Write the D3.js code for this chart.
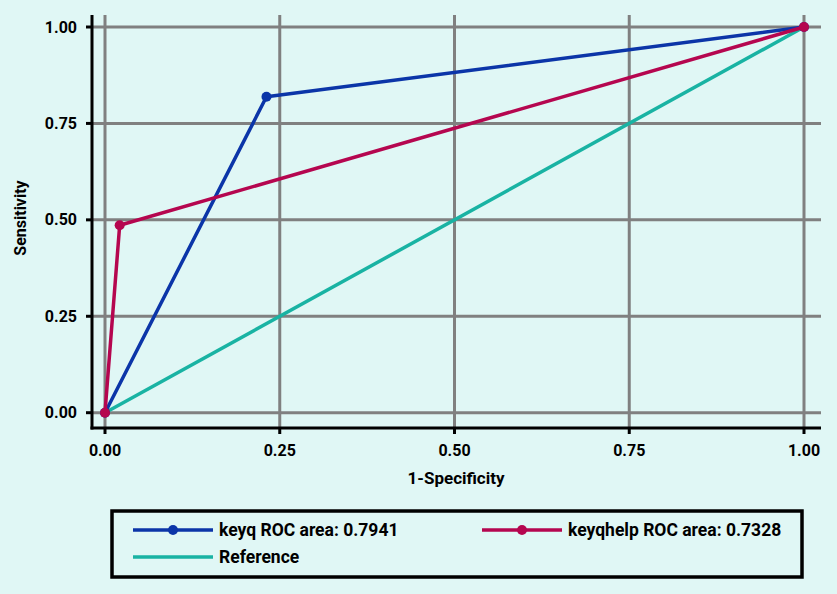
<!DOCTYPE html>
<html>
<head>
<meta charset="UTF-8">
<script src="https://d3js.org/d3.v7.min.js"></script>
<style>
  body { margin: 0; background: #e0f7f5; }
  svg { display: block; font-family: Roboto, "DejaVu Sans", sans-serif; font-weight: bold; }
</style>
</head>
<body>
<div id="chart"></div>
<script>
// data
const ticks = [0, 0.25, 0.5, 0.75, 1];
const keyqX = [0, 0.231, 1];
const keyqY = [0, 0.819, 1];
const helpX = [0, 0.021, 1];
const helpY = [0, 0.486, 1];
const refX = [0, 1];
const refY = [0, 1];
const legendLabels = ["keyq ROC area: 0.7941", "keyqhelp ROC area: 0.7328", "Reference"];

const W = 837, H = 594;
const svg = d3.select("#chart").append("svg").attr("width", W).attr("height", H);

const x = d3.scaleLinear().domain([0, 1]).range([105, 804]);
const y = d3.scaleLinear().domain([0, 1]).range([412.7, 27]);

const axisLeft = 92, axisBottom = 428, plotTop = 15, plotRight = 821;
const grid = "#808080";

// gridlines
svg.selectAll(".hg").data(ticks).join("line")
  .attr("x1", axisLeft).attr("x2", plotRight)
  .attr("y1", d => y(d)).attr("y2", d => y(d))
  .attr("stroke", grid).attr("stroke-width", 3);
svg.selectAll(".vg").data(ticks).join("line")
  .attr("x1", d => x(d)).attr("x2", d => x(d))
  .attr("y1", plotTop).attr("y2", axisBottom)
  .attr("stroke", grid).attr("stroke-width", 3);

// axes
svg.append("line").attr("x1", axisLeft).attr("x2", axisLeft)
  .attr("y1", plotTop).attr("y2", axisBottom + 1.5)
  .attr("stroke", "#000").attr("stroke-width", 3);
svg.append("line").attr("x1", axisLeft - 1.5).attr("x2", plotRight)
  .attr("y1", axisBottom).attr("y2", axisBottom)
  .attr("stroke", "#000").attr("stroke-width", 3);

svg.selectAll(".yt").data(ticks).join("line")
  .attr("x1", axisLeft - 6).attr("x2", axisLeft)
  .attr("y1", d => y(d)).attr("y2", d => y(d))
  .attr("stroke", "#000").attr("stroke-width", 3);
svg.selectAll(".xt").data(ticks).join("line")
  .attr("x1", d => x(d)).attr("x2", d => x(d))
  .attr("y1", axisBottom).attr("y2", axisBottom + 6)
  .attr("stroke", "#000").attr("stroke-width", 3);

svg.selectAll(".yl").data(ticks).join("text")
  .attr("x", 77).attr("y", d => y(d)).attr("dy", "0.35em")
  .attr("text-anchor", "end").attr("font-size", 16)
  .text(d => d3.format(".2f")(d));
svg.selectAll(".xl").data(ticks).join("text")
  .attr("x", d => x(d)).attr("y", 450).attr("dy", "0.35em")
  .attr("text-anchor", "middle").attr("font-size", 16)
  .text(d => d3.format(".2f")(d));

svg.append("text").attr("x", 456).attr("y", 478).attr("dy", "0.35em")
  .attr("text-anchor", "middle").attr("font-size", 17).text("1-Specificity");
svg.append("text").attr("transform", "translate(20,218) rotate(-90)")
  .attr("dy", "0.35em").attr("text-anchor", "middle").attr("font-size", 16)
  .text("Sensitivity");

// series
const line = d3.line().x(d => x(d[0])).y(d => y(d[1]));
const series = [
  { xs: refX, ys: refY, color: "#19b3a3", marker: false },
  { xs: keyqX, ys: keyqY, color: "#0b35a8", marker: true },
  { xs: helpX, ys: helpY, color: "#b5064f", marker: true }
];
series.forEach(s => {
  const pts = s.xs.map((v, i) => [v, s.ys[i]]);
  svg.append("path").datum(pts).attr("d", line)
    .attr("fill", "none").attr("stroke", s.color).attr("stroke-width", 3.5)
    .attr("stroke-linejoin", "round");
  if (s.marker) {
    svg.selectAll(null).data(pts).join("circle")
      .attr("cx", d => x(d[0])).attr("cy", d => y(d[1])).attr("r", 5)
      .attr("fill", s.color);
  }
});

// legend
svg.append("rect").attr("x", 112).attr("y", 511).attr("width", 690).attr("height", 66)
  .attr("fill", "none").attr("stroke", "#000").attr("stroke-width", 3.5);
const legendItems = [
  { lx: 133, ly: 530, color: "#0b35a8", marker: true },
  { lx: 482, ly: 530, color: "#b5064f", marker: true },
  { lx: 133, ly: 557, color: "#19b3a3", marker: false }
];
legendItems.forEach((it, i) => {
  svg.append("line").attr("x1", it.lx).attr("x2", it.lx + 80)
    .attr("y1", it.ly).attr("y2", it.ly)
    .attr("stroke", it.color).attr("stroke-width", 3.5);
  if (it.marker) {
    svg.append("circle").attr("cx", it.lx + 40).attr("cy", it.ly).attr("r", 5).attr("fill", it.color);
  }
  svg.append("text").attr("x", it.lx + 86).attr("y", it.ly).attr("dy", "0.35em")
    .attr("font-size", 17.5).text(legendLabels[i]);
});
</script>
</body>
</html>
